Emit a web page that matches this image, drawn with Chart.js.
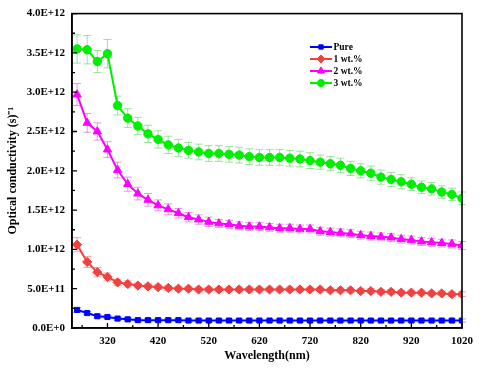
<!DOCTYPE html>
<html><head><meta charset="utf-8">
<script src="https://cdn.jsdelivr.net/npm/chart.js@4.4.1/dist/chart.umd.min.js"></script>
<style>html,body{margin:0;padding:0;background:#fff;}</style>
</head><body>
<canvas id="c" width="480" height="369"></canvas>
<script>
const wavelengths = [260,280,300,320,340,360,380,400,420,440,460,480,500,520,540,560,580,600,620,640,660,680,700,720,740,760,780,800,820,840,860,880,900,920,940,960,980,1000,1020];
const pure = [0.23e12,0.19e12,0.15e12,0.14e12,0.12e12,0.11e12,0.10e12,0.10e12,0.10e12,0.10e12,0.10e12,0.095e12,0.095e12,0.095e12,0.095e12,0.095e12,0.095e12,0.095e12,0.095e12,0.095e12,0.095e12,0.095e12,0.095e12,0.095e12,0.095e12,0.095e12,0.095e12,0.095e12,0.095e12,0.095e12,0.095e12,0.095e12,0.095e12,0.095e12,0.095e12,0.095e12,0.095e12,0.095e12,0.095e12];
const wt1 = [1.06e12,0.84e12,0.71e12,0.65e12,0.58e12,0.56e12,0.54e12,0.53e12,0.52e12,0.51e12,0.50e12,0.50e12,0.49e12,0.49e12,0.49e12,0.49e12,0.49e12,0.49e12,0.49e12,0.49e12,0.49e12,0.49e12,0.49e12,0.49e12,0.49e12,0.48e12,0.48e12,0.48e12,0.47e12,0.47e12,0.46e12,0.46e12,0.45e12,0.45e12,0.45e12,0.44e12,0.44e12,0.43e12,0.43e12];
const wt2 = [2.97e12,2.61e12,2.50e12,2.27e12,2.01e12,1.83e12,1.71e12,1.63e12,1.56e12,1.51e12,1.46e12,1.41e12,1.38e12,1.35e12,1.33e12,1.32e12,1.30e12,1.29e12,1.29e12,1.28e12,1.27e12,1.27e12,1.26e12,1.26e12,1.23e12,1.22e12,1.21e12,1.20e12,1.18e12,1.17e12,1.16e12,1.15e12,1.13e12,1.12e12,1.10e12,1.09e12,1.08e12,1.07e12,1.05e12];
const wt3 = [3.55e12,3.54e12,3.39e12,3.49e12,2.83e12,2.67e12,2.57e12,2.47e12,2.40e12,2.33e12,2.29e12,2.26e12,2.24e12,2.22e12,2.22e12,2.21e12,2.20e12,2.18e12,2.17e12,2.17e12,2.17e12,2.16e12,2.15e12,2.13e12,2.11e12,2.09e12,2.07e12,2.03e12,2.00e12,1.97e12,1.92e12,1.89e12,1.86e12,1.83e12,1.79e12,1.77e12,1.73e12,1.70e12,1.65e12];
const pureErr = [0.03e12,0.02e12,0.02e12,0.02e12,0.02e12,0.02e12,0.02e12,0.02e12,0.02e12,0.02e12,0.02e12,0.02e12,0.02e12,0.02e12,0.02e12,0.02e12,0.02e12,0.02e12,0.02e12,0.02e12,0.02e12,0.02e12,0.02e12,0.02e12,0.02e12,0.02e12,0.02e12,0.02e12,0.02e12,0.02e12,0.02e12,0.02e12,0.02e12,0.02e12,0.02e12,0.02e12,0.02e12,0.02e12,0.02e12];
const wt1Err = [0.09e12,0.07e12,0.06e12,0.05e12,0.04e12,0.04e12,0.03e12,0.03e12,0.03e12,0.03e12,0.03e12,0.03e12,0.03e12,0.03e12,0.03e12,0.03e12,0.03e12,0.03e12,0.03e12,0.03e12,0.03e12,0.03e12,0.03e12,0.03e12,0.03e12,0.03e12,0.03e12,0.03e12,0.03e12,0.03e12,0.03e12,0.03e12,0.03e12,0.03e12,0.03e12,0.03e12,0.03e12,0.03e12,0.03e12];
const wt2Err = [0.14e12,0.12e12,0.11e12,0.10e12,0.10e12,0.09e12,0.08e12,0.08e12,0.07e12,0.07e12,0.06e12,0.06e12,0.06e12,0.06e12,0.05e12,0.05e12,0.05e12,0.05e12,0.05e12,0.05e12,0.05e12,0.05e12,0.05e12,0.05e12,0.05e12,0.05e12,0.05e12,0.05e12,0.05e12,0.05e12,0.05e12,0.05e12,0.05e12,0.05e12,0.05e12,0.05e12,0.05e12,0.05e12,0.05e12];
const wt3Err = [0.18e12,0.18e12,0.14e12,0.18e12,0.12e12,0.12e12,0.11e12,0.11e12,0.11e12,0.11e12,0.11e12,0.10e12,0.10e12,0.10e12,0.10e12,0.10e12,0.10e12,0.10e12,0.10e12,0.10e12,0.10e12,0.10e12,0.10e12,0.10e12,0.09e12,0.09e12,0.09e12,0.09e12,0.09e12,0.09e12,0.09e12,0.09e12,0.09e12,0.08e12,0.08e12,0.08e12,0.08e12,0.08e12,0.08e12];
const seriesNames = ['Pure','1 wt.%','2 wt.%','3 wt.%'];
const xTickValues = [320,420,520,620,720,820,920,1020];
const xMinorValues = [270,370,470,570,670,770,870,970];

const SERIF = '"Liberation Serif", "Times New Roman", serif';
const pts = arr => wavelengths.map((w,i)=>({x:w, y:arr[i]}));

function fmtE(v){
  if (v === 0) return '0.0E+0';
  const e = Math.floor(Math.log10(v) + 1e-9);
  const m = v / Math.pow(10, e);
  return m.toFixed(1) + 'E+' + e;
}

const styles = [
  {color:'#0000ff', err:'rgba(80,80,255,0.55)', ps:'rect', r:3.6},
  {color:'#f04040', err:'rgba(240,110,110,0.6)', ps:'rectRot', r:4.6},
  {color:'#ff00ff', err:'rgba(210,90,210,0.6)', ps:'triangle', r:4.8},
  {color:'#00ee00', err:'rgba(90,210,90,0.6)', ps:'circle', r:4.2}
];
const values = [pure, wt1, wt2, wt3];
const errs = [pureErr, wt1Err, wt2Err, wt3Err];

const datasets = values.map((v,i)=>({
  label: seriesNames[i],
  data: pts(v),
  errors: errs[i],
  errColor: styles[i].err,
  borderColor: styles[i].color,
  backgroundColor: styles[i].color,
  pointBackgroundColor: styles[i].color,
  pointBorderColor: styles[i].color,
  pointStyle: styles[i].ps,
  pointRadius: styles[i].r,
  pointBorderWidth: 1,
  borderWidth: 2,
  tension: 0
}));

const decor = {
  id:'decor',
  beforeDatasetsDraw(chart){
    const ctx = chart.ctx, xs = chart.scales.x, ys = chart.scales.y;
    chart.data.datasets.forEach(ds=>{
      ctx.save();
      ctx.strokeStyle = ds.errColor; ctx.lineWidth = 1;
      ds.data.forEach((p,j)=>{
        const e = ds.errors[j];
        const px = xs.getPixelForValue(p.x);
        const y1 = ys.getPixelForValue(p.y + e), y2 = ys.getPixelForValue(p.y - e);
        ctx.beginPath();
        ctx.moveTo(px, y1); ctx.lineTo(px, y2);
        ctx.moveTo(px-4, y1); ctx.lineTo(px+4, y1);
        ctx.moveTo(px-4, y2); ctx.lineTo(px+4, y2);
        ctx.stroke();
      });
      ctx.restore();
    });
  },
  afterDraw(chart){
    const ctx = chart.ctx, a = chart.chartArea, xs = chart.scales.x, ys = chart.scales.y;
    ctx.save();
    ctx.strokeStyle = '#000'; ctx.lineWidth = 1.6;
    ctx.strokeRect(a.left, a.top, a.right - a.left, a.bottom - a.top);
    ctx.lineWidth = 1.3;
    ctx.beginPath();
    xTickValues.forEach(v=>{ const x = xs.getPixelForValue(v); ctx.moveTo(x, a.bottom); ctx.lineTo(x, a.bottom-5); });
    xMinorValues.forEach(v=>{ const x = xs.getPixelForValue(v); ctx.moveTo(x, a.bottom); ctx.lineTo(x, a.bottom-3); });
    ys.ticks.forEach(t=>{ const y = ys.getPixelForValue(t.value); ctx.moveTo(a.left, y); ctx.lineTo(a.left+5, y); });
    for (let i=0;i<ys.ticks.length-1;i++){
      const y = ys.getPixelForValue((ys.ticks[i].value + ys.ticks[i+1].value)/2);
      ctx.moveTo(a.left, y); ctx.lineTo(a.left+3, y);
    }
    ctx.stroke();
    // legend
    const lx0 = 310, lx1 = 332, ly0 = 47, dy = 12;
    chart.data.datasets.forEach((ds,i)=>{
      const y = ly0 + i*dy;
      ctx.strokeStyle = ds.borderColor; ctx.lineWidth = 2;
      ctx.beginPath(); ctx.moveTo(lx0, y); ctx.lineTo(lx1, y); ctx.stroke();
      ctx.fillStyle = ds.borderColor; ctx.strokeStyle = ds.borderColor; ctx.lineWidth = 1;
      Chart.helpers.drawPoint(ctx, {pointStyle: ds.pointStyle, radius: ds.pointRadius*0.85, rotation: 0, borderWidth: 1}, (lx0+lx1)/2, y);
      ctx.fillStyle = '#000';
      ctx.font = 'bold 9.5px ' + SERIF;
      ctx.textAlign = 'left'; ctx.textBaseline = 'middle';
      ctx.fillText(ds.label, lx1 + 1.5, y + 0.5);
    });
    ctx.restore();
  }
};

new Chart(document.getElementById('c'), {
  type: 'line',
  data: { datasets },
  options: {
    responsive: false,
    animation: false,
    devicePixelRatio: 1,
    layout: { padding: { top: 12, right: 18, left: 0, bottom: 0 } },
    plugins: { legend: { display: false }, tooltip: { enabled: false } },
    scales: {
      x: {
        type: 'linear', min: 250, max: 1020,
        afterBuildTicks: s => { s.ticks = xTickValues.map(v=>({value:v})); },
        afterFit: s => { s.height = 41; },
        grid: { display: false, drawTicks: false },
        border: { display: true, color: '#000', width: 1.5 },
        ticks: { color: '#000', padding: 7, maxRotation: 0, autoSkip: false,
          font: { family: SERIF, size: 11, weight: 'bold' }, callback: v => String(v) },
        title: { display: true, text: 'Wavelength(nm)', color: '#000',
          font: { family: SERIF, size: 12, weight: 'bold' }, padding: { top: 2, bottom: 6 } }
      },
      y: {
        type: 'linear', min: 0, max: 4e12,
        afterFit: s => { s.width = 72; },
        grid: { display: false, drawTicks: false },
        border: { display: true, color: '#000', width: 1.5 },
        ticks: { stepSize: 5e11, color: '#000', padding: 7,
          font: { family: SERIF, size: 11, weight: 'bold' }, callback: v => fmtE(v) },
        title: { display: true, text: 'Optical conductivity (s)\u207B\u00B9', color: '#000',
          font: { family: SERIF, size: 12, weight: 'bold' }, padding: { top: 6, bottom: 0 } }
      }
    }
  },
  plugins: [decor]
});
</script>
</body></html>
